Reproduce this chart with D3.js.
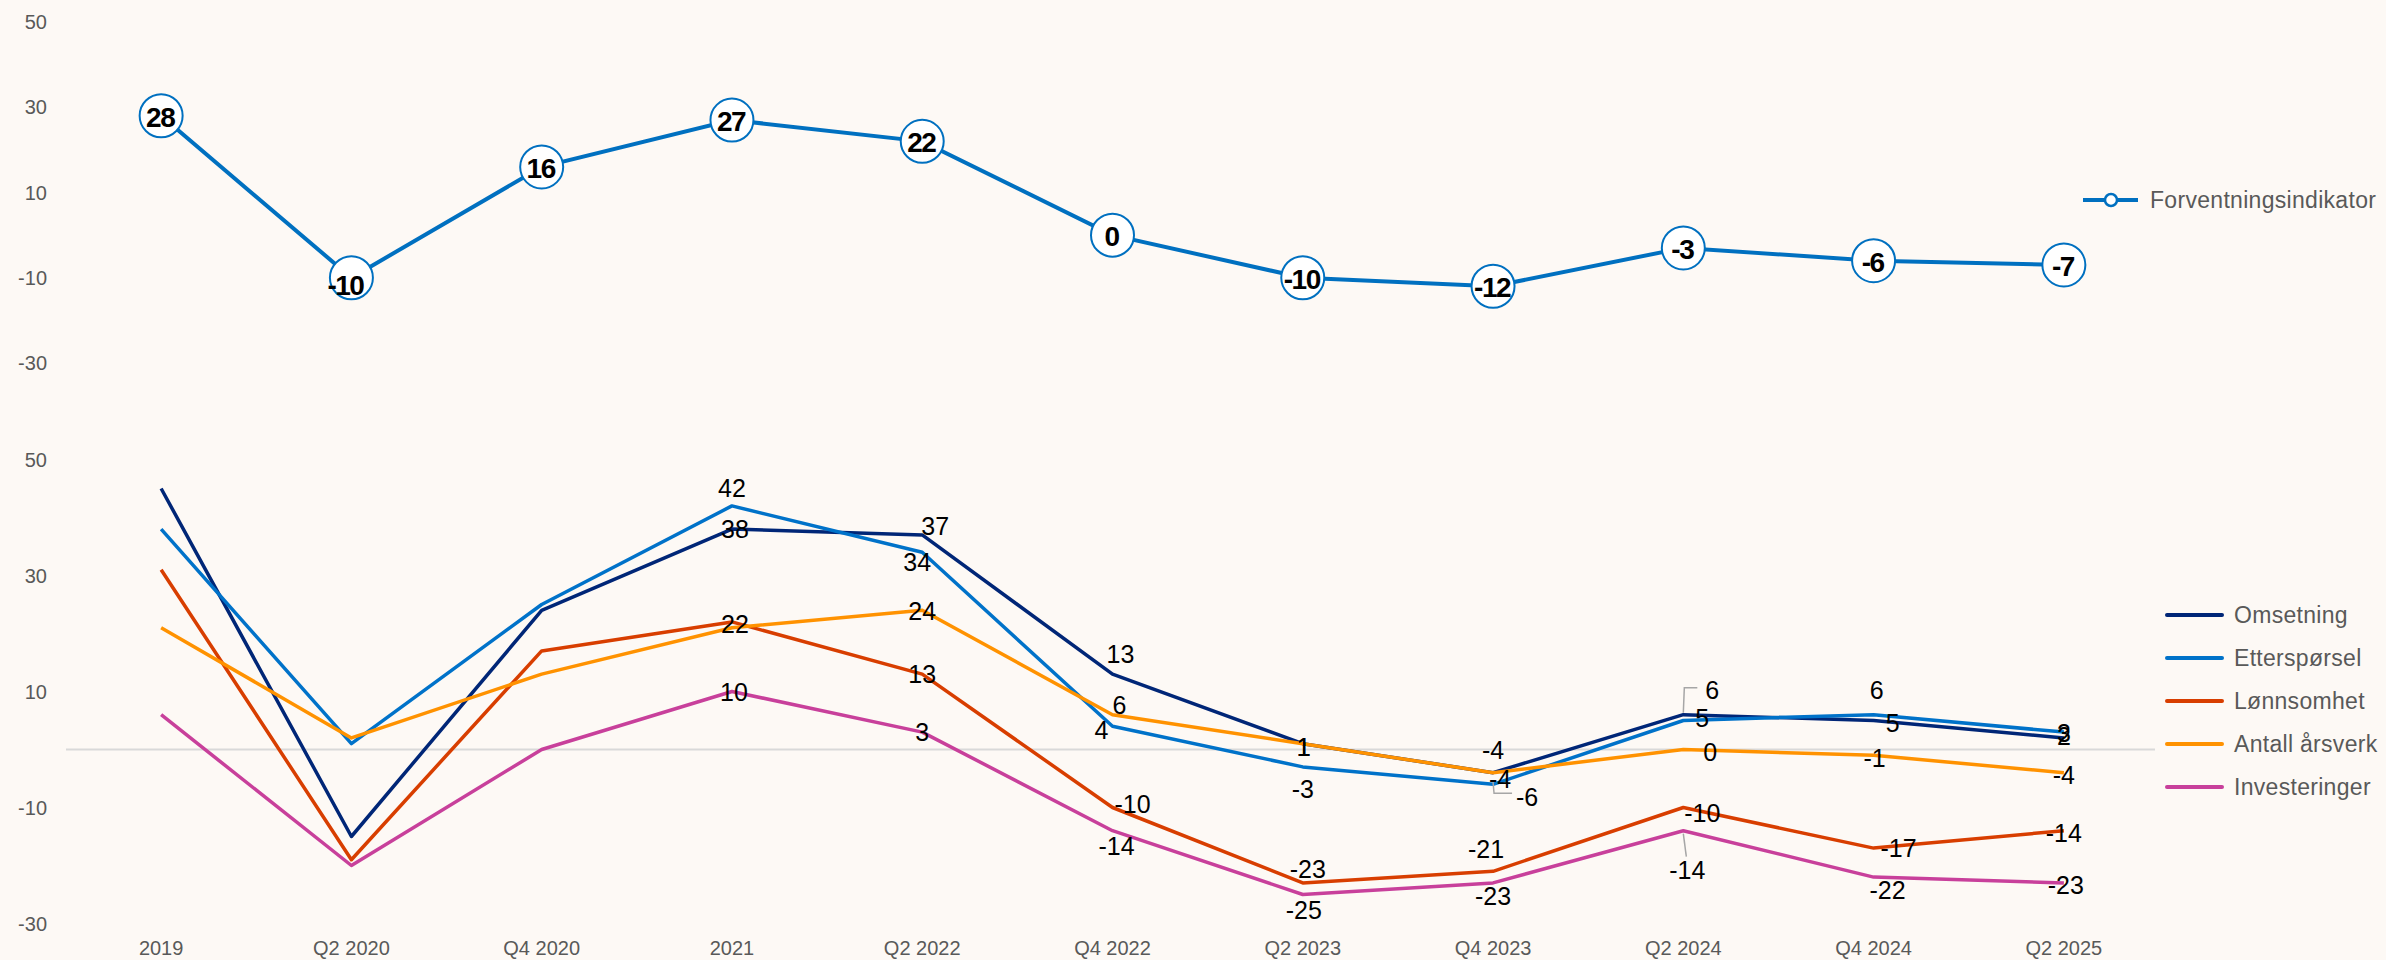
<!DOCTYPE html>
<html>
<head>
<meta charset="utf-8">
<script src="https://cdn.jsdelivr.net/npm/d3@7"></script>
<style>
    body { margin: 0; background: #fdf9f5; }
    svg { display: block; font-family: "Liberation Sans", Arial, sans-serif; }
    .tick-label { fill: #595959; font-size: 20px; }
    .legend-text { fill: #595959; font-size: 23px; letter-spacing: 0.3px; }
    .value-label { fill: #000; font-size: 25px; }
    .top-label { fill: #000; font-size: 28px; font-weight: bold; letter-spacing: -1.5px; }
</style>
</head>
<body>
<svg></svg>
<script>
const quarters = ['2019', 'Q2 2020', 'Q4 2020', '2021', 'Q2 2022', 'Q4 2022', 'Q2 2023', 'Q4 2023', 'Q2 2024', 'Q4 2024', 'Q2 2025'];
const forventning = [28, -10, 16, 27, 22, 0, -10, -12, -3, -6, -7];
const omsetning = [45, -15, 24, 38, 37, 13, 1, -4, 6, 5, 2];
const ettersporsel = [38, 1, 25, 42, 34, 4, -3, -6, 5, 6, 3];
const lonnsomhet = [31, -19, 17, 22, 13, -10, -23, -21, -10, -17, -14];
const antallArsverk = [21, 2, 13, 21, 24, 6, 1, -4, 0, -1, -4];
const investeringer = [6, -20, 0, 10, 3, -14, -25, -23, -14, -22, -23];
const yTicks = [-30, -10, 10, 30, 50];

const width = 2386, height = 960;
const svg = d3.select('svg').attr('width', width).attr('height', height);

const series = [
    { name: 'Omsetning', values: omsetning, color: '#002677' },
    { name: 'Etterspørsel', values: ettersporsel, color: '#0072c9' },
    { name: 'Lønnsomhet', values: lonnsomhet, color: '#d83e00' },
    { name: 'Antall årsverk', values: antallArsverk, color: '#ff9200' },
    { name: 'Investeringer', values: investeringer, color: '#c8409b' }
];

// manual nudges for the data labels (like the hand-placed labels in the original), [dx, dy], null = hidden
const labelNudge = {
    'Omsetning':      [[3, 0], [13, -9], [8, -20], [1, 3], [0, -23], [29, -25, 'leader'], [19, 2], [0, -2]],
    'Etterspørsel':   [[0, -18], [-5, 10], [-11, 4], [0, 22], [34, 13, 'leader'], [19, -3], [3, -25], [0, 1]],
    'Lønnsomhet':     [[3, 2], [0, 0], [20, -4], [5, -14], [-7, -22], [19, 5], [25, 0], [0, 2]],
    'Antall årsverk': [null, [0, 1], [7, -10], [1, 3], [7, 6], [27, 2], [1, 3], [0, 2]],
    'Investeringer':  [[2, 0], [0, 0], [4, 15], [1, 15], [0, 13], [4, 39, 'leader'], [14, 13], [2, 2]]
};
const firstLabel = 3;

const x = d3.scaleBand().domain(quarters).range([66, 2159]);
const cx = (q) => x(q) + x.bandwidth() / 2;

const yTop = d3.scaleLinear().domain([-30, 50]).range([363, 22]);
const yBot = d3.scaleLinear().domain([-30, 50]).range([923.5, 459.5]);

// y tick labels for both panels
function drawTicks(scale) {
    svg.append('g')
        .selectAll('text')
        .data(yTicks)
        .enter()
        .append('text')
        .attr('class', 'tick-label')
        .attr('x', 47)
        .attr('y', (d) => scale(d))
        .attr('dy', '0.35em')
        .attr('text-anchor', 'end')
        .text((d) => d);
}
drawTicks(yTop);
drawTicks(yBot);

// x labels
svg.append('g')
    .selectAll('text')
    .data(quarters)
    .enter()
    .append('text')
    .attr('class', 'tick-label')
    .attr('x', (d) => cx(d))
    .attr('y', 948)
    .attr('dy', '0.35em')
    .attr('text-anchor', 'middle')
    .text((d) => d);

// zero line, bottom panel
svg.append('line')
    .attr('x1', 66).attr('x2', 2155)
    .attr('y1', yBot(0)).attr('y2', yBot(0))
    .attr('stroke', '#d9d9d9')
    .attr('stroke-width', 2);

// top panel: forventningsindikator
const topLine = d3.line()
    .x((d, i) => cx(quarters[i]))
    .y((d) => yTop(d));

svg.append('path')
    .datum(forventning)
    .attr('d', topLine)
    .attr('fill', 'none')
    .attr('stroke', '#0070c0')
    .attr('stroke-width', 4);

const topPoints = svg.append('g')
    .selectAll('g')
    .data(forventning)
    .enter()
    .append('g')
    .attr('transform', (d, i) => `translate(${cx(quarters[i])},${yTop(d)})`);

topPoints.append('circle')
    .attr('r', 21.5)
    .attr('fill', '#fff')
    .attr('stroke', '#0070c0')
    .attr('stroke-width', 2);

topPoints.append('text')
    .attr('class', 'top-label')
    .attr('text-anchor', 'middle')
    .attr('x', (d, i) => i === 1 ? -6 : -1)
    .attr('y', (d, i) => i === 1 ? 7 : 1)
    .attr('dy', '0.36em')
    .text((d) => d);

// top legend
const topLegend = svg.append('g').attr('transform', 'translate(2083,200)');
topLegend.append('line')
    .attr('x1', 0).attr('x2', 55)
    .attr('stroke', '#0070c0')
    .attr('stroke-width', 4);
topLegend.append('circle')
    .attr('cx', 28).attr('r', 6)
    .attr('fill', '#fff')
    .attr('stroke', '#0070c0')
    .attr('stroke-width', 2.5);
topLegend.append('text')
    .attr('class', 'legend-text')
    .attr('x', 67)
    .attr('dy', '0.35em')
    .text('Forventningsindikator');

// bottom panel lines
const botLine = d3.line()
    .x((d, i) => cx(quarters[i]))
    .y((d) => yBot(d));

svg.append('g')
    .selectAll('path')
    .data(series)
    .enter()
    .append('path')
    .attr('d', (s) => botLine(s.values))
    .attr('fill', 'none')
    .attr('stroke', (s) => s.color)
    .attr('stroke-width', 3.5)
    .attr('stroke-linejoin', 'round');

// data labels for the bottom panel
const labels = [];
for (let s of series) {
    s.values.forEach((v, i) => {
        if (i < firstLabel) return;
        const nudge = labelNudge[s.name][i - firstLabel];
        if (!nudge) return;
        labels.push({
            value: v,
            px: cx(quarters[i]),
            py: yBot(v),
            dx: nudge[0],
            dy: nudge[1],
            leader: nudge[2] === 'leader'
        });
    });
}

// leader lines
svg.append('g')
    .selectAll('path')
    .data(labels.filter((l) => l.leader))
    .enter()
    .append('path')
    .attr('fill', 'none')
    .attr('stroke', '#a6a6a6')
    .attr('stroke-width', 1.5)
    .attr('d', (l) => {
        if (Math.abs(l.dx) < 12) {
            return `M${l.px},${l.py + 3} L${l.px + 3},${l.py + l.dy - 13}`;
        }
        const ly = l.dy < 0 ? l.py + l.dy - 2 : l.py + l.dy - 4;
        return `M${l.px},${l.py - 2} L${l.px + 1},${ly} L${l.px + l.dx - 15},${ly}`;
    });

svg.append('g')
    .selectAll('text')
    .data(labels)
    .enter()
    .append('text')
    .attr('class', 'value-label')
    .attr('text-anchor', 'middle')
    .attr('x', (l) => l.px + l.dx)
    .attr('y', (l) => l.py + l.dy)
    .attr('dy', '0.36em')
    .text((l) => l.value);

// bottom legend
const botLegend = svg.append('g')
    .selectAll('g')
    .data(series)
    .enter()
    .append('g')
    .attr('transform', (s, i) => `translate(2167,${615 + i * 43})`);

botLegend.append('line')
    .attr('x1', 0).attr('x2', 55)
    .attr('stroke', (s) => s.color)
    .attr('stroke-width', 4)
    .attr('stroke-linecap', 'round');

botLegend.append('text')
    .attr('class', 'legend-text')
    .attr('x', 67)
    .attr('dy', '0.35em')
    .text((s) => s.name);
</script>
</body>
</html>
